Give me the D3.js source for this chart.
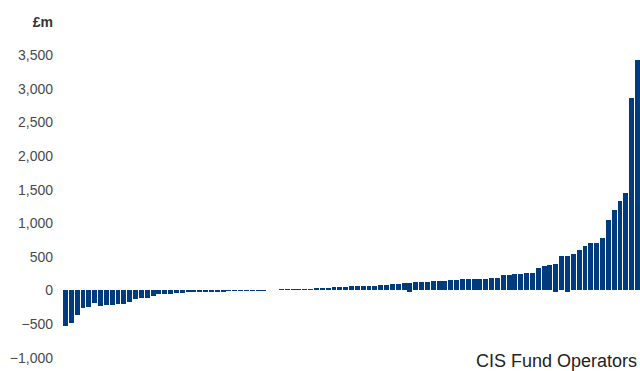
<!DOCTYPE html>
<html>
<head>
<meta charset="utf-8">
<script src="https://cdn.jsdelivr.net/npm/d3@7"></script>
<style>
  html, body { margin: 0; padding: 0; background: #fff; }
  svg { display: block; }
  text { font-family: "Liberation Sans", Arial, Helvetica, sans-serif; }
</style>
</head>
<body>
<script>
// Net flows by CIS fund operator (£m), sorted ascending
const values = [
  -530, -480, -360, -255, -240, -185, -230, -215, -212, -200,
  -195, -168, -125, -110, -108, -78, -60, -52, -50, -40,
  -40, -30, -30, -30, -30, -25, -16, -16, -15, -15,
  -15, -15, -15, -15, -15, 0, 0, 16, 16, 25,
  25, 25, 28, 35, 38, 40, 48, 50, 58, 60,
  60, 62, 70, 70, 80, 80, 90, 100, 110, 115,
  125, 125, 125, 140, 140, 140, 155, 155, 170, 170,
  170, 172, 175, 185, 185, 230, 230, 245, 245, 260,
  260, 335, 365, 380, 395, 515, 515, 545, 600, 660,
  705, 705, 780, 1045, 1195, 1330, 1450, 2860, 3425
];
// small negative components visible under a few bars
const dipIndex = [59, 84, 86];
const dipValue = [-22, -20, -20];

const yTicks = [-1000, -500, 0, 500, 1000, 1500, 2000, 2500, 3000, 3500];
const unitLabel = "£m";
const xTitle = "CIS Fund Operators";

const W = 640, H = 371;
const svg = d3.select("body").append("svg").attr("width", W).attr("height", H);

const x = d3.scaleBand()
  .domain(d3.range(values.length))
  .range([63, 640])
  .paddingInner(0.15)
  .paddingOuter(0);

const y = d3.scaleLinear().domain([-1000, 3500]).range([357.7, 55]);

const barColor = "#003c7d";

svg.append("g")
  .selectAll("rect")
  .data(values)
  .join("rect")
  .attr("x", (d, i) => x(i))
  .attr("width", x.bandwidth())
  .attr("y", d => y(Math.max(0, d)))
  .attr("height", d => Math.abs(y(d) - y(0)))
  .attr("fill", barColor)
  .attr("shape-rendering", "crispEdges");

svg.append("g")
  .selectAll("rect")
  .data(dipIndex.map((k, j) => ({ k, v: dipValue[j] })))
  .join("rect")
  .attr("x", d => x(d.k))
  .attr("width", x.bandwidth())
  .attr("y", y(0))
  .attr("height", d => y(d.v) - y(0))
  .attr("fill", barColor)
  .attr("shape-rendering", "crispEdges");

const yAxis = d3.axisLeft(y)
  .tickValues(yTicks)
  .tickSize(0)
  .tickPadding(0)
  .tickFormat(d3.format(","));

const gy = svg.append("g").attr("transform", "translate(53,0)").call(yAxis);
gy.select(".domain").remove();
gy.selectAll("text")
  .attr("font-size", 14)
  .attr("fill", "#4a4a4a")
  .attr("font-family", "'Liberation Sans', Arial, sans-serif");

svg.append("text")
  .attr("x", 53).attr("y", 27)
  .attr("text-anchor", "end")
  .attr("font-size", 14)
  .attr("font-weight", "bold")
  .attr("fill", "#333")
  .text(unitLabel);

svg.append("text")
  .attr("x", 637).attr("y", 366.5)
  .attr("text-anchor", "end")
  .attr("font-size", 18)
  .attr("fill", "#222")
  .text(xTitle);
</script>
</body>
</html>
